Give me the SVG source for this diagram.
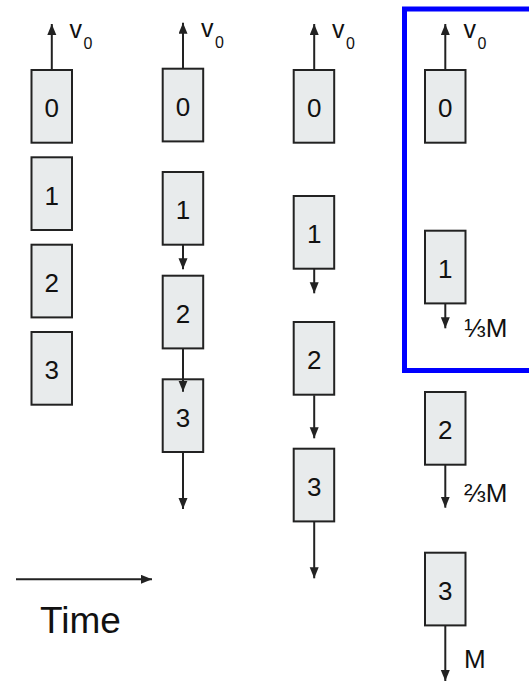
<svg xmlns="http://www.w3.org/2000/svg" width="529" height="682" viewBox="0 0 529 682">
<defs>
<marker id="ah" markerUnits="userSpaceOnUse" markerWidth="12" markerHeight="10" refX="11" refY="4.5" orient="auto">
<path d="M0,0 L11,4.5 L0,9 z" fill="#222"/>
</marker>
<style>
.box{fill:#e8ebec;stroke:#222;stroke-width:2}
.num{font-family:"Liberation Sans",Arial,sans-serif;font-size:26px;fill:#111;text-anchor:middle}
.lbl{font-family:"Liberation Sans",Arial,sans-serif;font-size:26px;fill:#111}
.v{font-family:"Liberation Sans",Arial,sans-serif;font-size:25px;fill:#111}
.sub{font-family:"Liberation Sans",Arial,sans-serif;font-size:16px;fill:#111}
.arr{stroke:#222;stroke-width:2;fill:none;marker-end:url(#ah)}
</style>
</defs>
<rect width="529" height="682" fill="#fff"/>
<rect id="highlight" x="404.5" y="9" width="200" height="361.5" fill="none" stroke="#0000ff" stroke-width="5"/>

<g id="c1-b0"><rect class="box" x="31.5" y="70" width="40.5" height="72.7"/><text class="num" x="51.8" y="117.3">0</text></g>
<g id="c1-b1"><rect class="box" x="31.5" y="157.3" width="40.5" height="72.7"/><text class="num" x="51.8" y="204.6">1</text></g>
<g id="c1-b2"><rect class="box" x="31.5" y="244.7" width="40.5" height="72.7"/><text class="num" x="51.8" y="292">2</text></g>
<g id="c1-b3"><rect class="box" x="31.5" y="332" width="40.5" height="72.7"/><text class="num" x="51.8" y="379.3">3</text></g>
<g id="c1-v0"><text class="v" x="69.5" y="38.3">v</text><text class="sub" x="83.5" y="49.3">0</text></g>

<g id="c2-b0"><rect class="box" x="162.7" y="68.7" width="40.5" height="72.7"/><text class="num" x="183" y="116">0</text></g>
<g id="c2-b1"><rect class="box" x="162.7" y="172" width="40.5" height="72.7"/><text class="num" x="183" y="219.3">1</text></g>
<g id="c2-b2"><rect class="box" x="162.7" y="275.7" width="40.5" height="72.7"/><text class="num" x="183" y="323">2</text></g>
<g id="c2-b3"><rect class="box" x="162.7" y="379.3" width="40.5" height="72.7"/><text class="num" x="183" y="426.6">3</text></g>
<g id="c2-v0"><text class="v" x="201" y="37">v</text><text class="sub" x="215" y="48">0</text></g>

<g id="c3-b0"><rect class="box" x="293.7" y="70" width="40.5" height="72.7"/><text class="num" x="314.2" y="117.3">0</text></g>
<g id="c3-b1"><rect class="box" x="293.7" y="196" width="40.5" height="72.7"/><text class="num" x="314.2" y="243.3">1</text></g>
<g id="c3-b2"><rect class="box" x="293.7" y="322" width="40.5" height="72.7"/><text class="num" x="314.2" y="369.3">2</text></g>
<g id="c3-b3"><rect class="box" x="293.7" y="448.7" width="40.5" height="72.7"/><text class="num" x="314.2" y="496">3</text></g>
<g id="c3-v0"><text class="v" x="332" y="38.3">v</text><text class="sub" x="346" y="49.3">0</text></g>

<g id="c4-b0"><rect class="box" x="425" y="70" width="40.5" height="72.7"/><text class="num" x="445.3" y="117.3">0</text></g>
<g id="c4-b1"><rect class="box" x="425" y="230.7" width="40.5" height="72.7"/><text class="num" x="445.3" y="278">1</text></g>
<g id="c4-b2"><rect class="box" x="425" y="392" width="40.5" height="72.7"/><text class="num" x="445.3" y="439.3">2</text></g>
<g id="c4-b3"><rect class="box" x="425" y="552.7" width="40.5" height="72.7"/><text class="num" x="445.3" y="600">3</text></g>
<g id="c4-v0"><text class="v" x="463.5" y="38.3">v</text><text class="sub" x="477.5" y="49.3">0</text></g>
<g id="c4-l1"><text class="lbl" x="464" y="337">⅓M</text></g>
<g id="c4-l2"><text class="lbl" x="464" y="502">⅔M</text></g>
<g id="c4-l3"><text class="lbl" x="464" y="668.3">M</text></g>
<g id="time"><text x="40" y="633.3" font-family="'Liberation Sans',Arial,sans-serif" font-size="37" fill="#111">Time</text></g>

<g id="connectors">
<line class="arr" x1="51.8" y1="70" x2="51.8" y2="24"/>
<line class="arr" x1="183" y1="68.7" x2="183" y2="22.7"/>
<line class="arr" x1="183" y1="244.7" x2="183" y2="269.3"/>
<line class="arr" x1="183" y1="348.3" x2="183" y2="391.7"/>
<line class="arr" x1="183" y1="452.3" x2="183" y2="509"/>
<line class="arr" x1="314.2" y1="70" x2="314.2" y2="24"/>
<line class="arr" x1="314.2" y1="268.7" x2="314.2" y2="293.3"/>
<line class="arr" x1="314.2" y1="395.3" x2="314.2" y2="438.3"/>
<line class="arr" x1="314.2" y1="521.7" x2="314.2" y2="578.3"/>
<line class="arr" x1="445.3" y1="70" x2="445.3" y2="24"/>
<line class="arr" x1="445.3" y1="304" x2="445.3" y2="328.3"/>
<line class="arr" x1="445.3" y1="465" x2="445.3" y2="507.7"/>
<line class="arr" x1="445.3" y1="626" x2="445.3" y2="681"/>
<line class="arr" x1="16" y1="579.3" x2="152" y2="579.3"/>
</g>
</svg>
